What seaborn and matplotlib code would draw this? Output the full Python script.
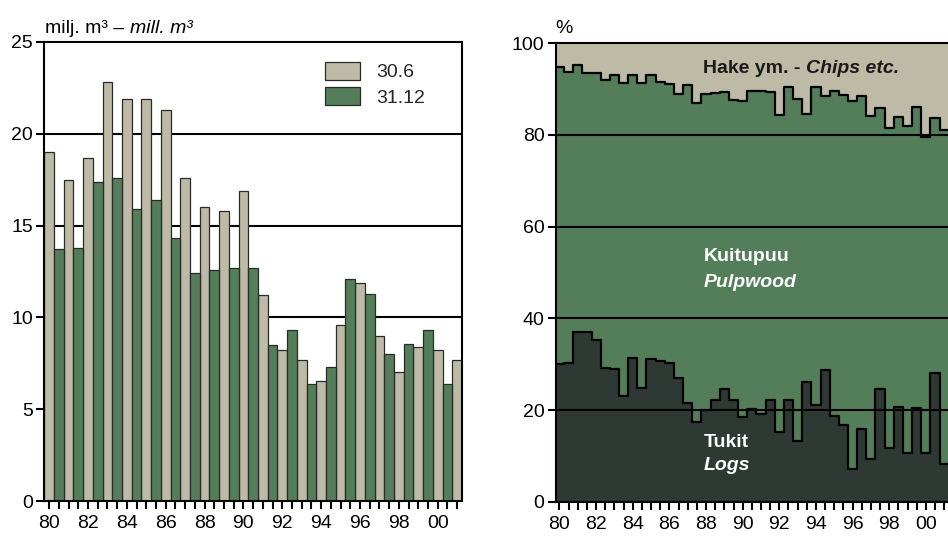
import numpy as np
import pandas as pd
import matplotlib
matplotlib.use("Agg")
import matplotlib.pyplot as plt
import seaborn as sns

# ---------------- data ----------------
years = ["80", "81", "82", "83", "84", "85", "86", "87", "88", "89", "90",
         "91", "92", "93", "94", "95", "96", "97", "98", "99", "00", "01"]
jun30 = [19.0, 17.5, 18.7, 22.8, 21.9, 21.9, 21.3, 17.6, 16.0, 15.8, 16.9,
         11.2, 8.25, 7.7, 6.55, 9.6, 11.9, 9.0, 7.05, 8.4, 8.25, 7.7]
dec31 = [13.7, 13.8, 17.4, 17.6, 15.9, 16.4, 14.3, 12.4, 12.6, 12.7, 12.7,
         8.5, 9.3, 6.35, 7.3, 12.1, 11.3, 8.0, 8.55, 9.3, 6.35]
series_names = ["30.6", "31.12"]

# shares (%) by half-year, 1980 June ... 2001 June
logs_pct = [30.0, 30.2, 37.1, 37.1, 35.3, 29.2, 28.9, 23.1, 31.3, 24.7,
            31.1, 30.7, 30.3, 26.9, 21.5, 17.4, 20.1, 22.2, 24.5, 22.2,
            18.5, 20.3, 19.1, 22.1, 15.1, 22.1, 13.2, 26.2, 21.0, 28.7,
            18.8, 16.7, 7.1, 15.8, 9.4, 24.5, 11.8, 20.7, 10.7, 20.5,
            10.7, 28.1, 8.3]
pulp_pct = [64.8, 63.6, 58.2, 56.4, 58.3, 62.8, 64.2, 68.3, 61.8, 66.7,
            62.0, 60.8, 60.8, 62.0, 69.4, 69.5, 68.8, 66.9, 64.8, 65.4,
            69.0, 69.4, 70.4, 67.2, 69.3, 68.3, 74.7, 58.4, 69.5, 59.9,
            70.9, 72.0, 80.4, 72.7, 74.7, 61.3, 69.7, 63.3, 71.3, 65.5,
            68.8, 55.5, 72.8]
chips_pct = [5.2, 6.2, 4.7, 6.5, 6.4, 8.0, 6.9, 8.6, 6.9, 8.6,
             6.9, 8.5, 8.9, 11.1, 9.1, 13.1, 11.1, 10.9, 10.7, 12.4,
             12.5, 10.3, 10.5, 10.7, 15.6, 9.6, 12.1, 15.4, 9.5, 11.4,
             10.3, 11.3, 12.5, 11.5, 15.9, 14.2, 18.5, 16.0, 18.0, 14.0,
             20.5, 16.4, 18.9]

# ---------------- style ----------------
sns.set_theme(style="white")
plt.rcParams["font.family"] = ["Liberation Sans", "DejaVu Sans"]
plt.rcParams["axes.linewidth"] = 1.5

GRAY = "#BDBBA6"
GREEN = "#547E5A"
DARK = "#2E3934"
FS = 14

fig = plt.figure(figsize=(9.48, 5.37), dpi=100)
W, H = 948.0, 537.0

# ---------------- left chart ----------------
rows = []
for i, yr in enumerate(years):
    rows.append({"pos": 2 * i, "val": jun30[i], "s": series_names[0]})
    if i < len(dec31):
        rows.append({"pos": 2 * i + 1, "val": dec31[i], "s": series_names[1]})
df = pd.DataFrame(rows)
n = len(df)

axL = fig.add_axes([44 / W, 1 - 501 / H, 418 / W, 459 / H])
for yv in [5, 10, 15, 20]:
    axL.axhline(yv, color="black", lw=1.5, zorder=0)
sns.barplot(data=df, x="pos", y="val", hue="s", dodge=False, width=1.0,
            palette=[GRAY, GREEN], hue_order=series_names,
            edgecolor="#2a2a2a", linewidth=0.9, saturation=1, ax=axL,
            zorder=2, native_scale=True)
axL.set_xlim(-0.53, n - 0.5)
axL.set_ylim(0, 25)
axL.set_yticks([0, 5, 10, 15, 20, 25])
axL.set_xticks(range(n))
axL.set_xticklabels([years[p // 2] if p % 4 == 0 else "" for p in range(n)])
axL.set_xlabel("")
axL.set_ylabel("")
for sp in axL.spines.values():
    sp.set_color("black")
    sp.set_linewidth(1.5)
    sp.set_visible(True)
axL.tick_params(axis="both", which="both", direction="out", length=6, width=1.5,
                color="black", labelsize=FS, labelcolor="black",
                bottom=True, left=True)
axL.tick_params(axis="y", pad=2)
axL.tick_params(axis="x", pad=4)
leg = axL.legend(loc="upper left", bbox_to_anchor=(0.65, 0.978), frameon=False,
                 fontsize=FS, handlelength=1.8, handleheight=1.05,
                 handletextpad=0.8, labelspacing=0.3, borderpad=0)
for p in leg.get_patches():
    p.set_edgecolor("#2a2a2a")
    p.set_linewidth(0.9)

t1 = fig.text(45 / W, 1 - 33 / H, "milj. m³ – ", fontsize=FS, va="baseline",
              ha="left", color="black")
axL.annotate("mill. m³", xy=(1, 0), xycoords=t1, va="bottom", ha="left",
             fontsize=FS, style="italic", color="black")

# ---------------- right chart ----------------
m = len(logs_pct)
edges = np.arange(m + 1) - 0.5
logs_top = np.array(logs_pct)
pulp_top = logs_top + np.array(pulp_pct)
chips_top = pulp_top + np.array(chips_pct)
ext = lambda a: np.append(a, a[-1])

axR = fig.add_axes([555.7 / W, 1 - 501.7 / H, 394 / W, 458.4 / H])
axR.fill_between(edges, 0, ext(logs_top), step="post", color=DARK, lw=0, zorder=1)
axR.fill_between(edges, ext(logs_top), ext(pulp_top), step="post", color=GREEN,
                 lw=0, zorder=1)
axR.fill_between(edges, ext(pulp_top), ext(chips_top), step="post", color=GRAY,
                 lw=0, zorder=1)
for yv in [20, 40, 60, 80]:
    axR.axhline(yv, color="black", lw=1.5, zorder=2)
sns.lineplot(x=edges, y=ext(logs_top), drawstyle="steps-post", color="black",
             lw=1.6, ax=axR, zorder=3)
sns.lineplot(x=edges, y=ext(pulp_top), drawstyle="steps-post", color="black",
             lw=1.6, ax=axR, zorder=3)
axR.set_xlim(-0.41, m - 0.5 + 0.1)
axR.set_ylim(0, 100)
axR.set_yticks([0, 20, 40, 60, 80, 100])
axR.set_xticks(range(m))
axR.set_xticklabels([years[p // 2] if p % 4 == 0 else "" for p in range(m)])
axR.set_xlabel("")
axR.set_ylabel("")
for sp in axR.spines.values():
    sp.set_color("black")
    sp.set_linewidth(1.5)
axR.spines["right"].set_visible(False)
axR.tick_params(axis="both", which="both", direction="out", length=6, width=1.5,
                color="black", labelsize=FS, labelcolor="black",
                bottom=True, left=True)
axR.tick_params(axis="y", pad=2)
axR.tick_params(axis="x", pad=4)

fig.text(555 / W, 1 - 33 / H, "%", fontsize=FS, va="baseline", ha="left",
         color="black")

tx = 15.7
h1 = axR.text(tx, 94.6, "Hake ym. - ", fontsize=FS, fontweight="bold",
              color="#1a1a1a", va="center", ha="left", zorder=5)
axR.annotate("Chips etc.", xy=(1, 0), xycoords=h1, va="bottom", ha="left",
             fontsize=FS, fontweight="bold", style="italic", color="#1a1a1a",
             zorder=5)
axR.text(tx, 53.4, "Kuitupuu", fontsize=FS, fontweight="bold", color="white",
         va="center", ha="left", zorder=5)
axR.text(tx, 47.9, "Pulpwood", fontsize=FS, fontweight="bold", style="italic",
         color="white", va="center", ha="left", zorder=5)
axR.text(tx, 13.0, "Tukit", fontsize=FS, fontweight="bold", color="white",
         va="center", ha="left", zorder=5)
axR.text(tx, 8.0, "Logs", fontsize=FS, fontweight="bold", style="italic",
         color="white", va="center", ha="left", zorder=5)

fig.savefig("out.png", dpi=100)
